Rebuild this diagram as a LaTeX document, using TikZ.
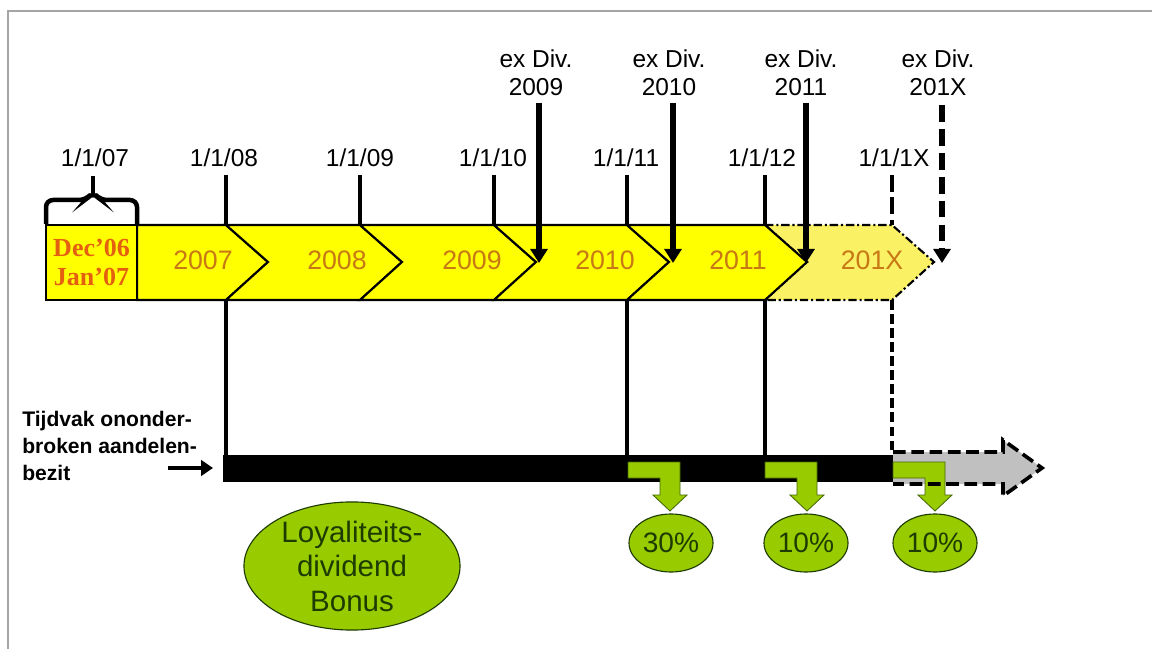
\documentclass[tikz,border=0pt]{standalone}
\usepackage{fontspec}
\setmainfont{Liberation Sans}
\newfontfamily\serifbold{Liberation Serif}
\usetikzlibrary{arrows.meta,shapes.geometric}
\definecolor{band}{RGB}{255,255,0}
\definecolor{bandlight}{RGB}{250,242,100}
\definecolor{yeartxt}{RGB}{200,120,20}
\definecolor{dectxt}{RGB}{228,96,16}
\definecolor{lgreen}{RGB}{153,204,0}
\definecolor{dgreen}{RGB}{30,60,0}
\definecolor{framegray}{RGB}{165,165,165}
\definecolor{arrowgray}{RGB}{192,192,192}
\begin{document}
\begin{tikzpicture}[x=0.025cm,y=-0.025cm,
  datelbl/.style={font=\fontsize{17.4}{19.9}\selectfont, inner sep=0, align=center},
  yearlbl/.style={font=\fontsize{19}{22}\selectfont, text=yeartxt, inner sep=0},
  seg/.style={fill=band, draw=black, line width=1.5pt, line join=miter},
  seglight/.style={fill=bandlight, draw=black, line width=1.5pt, dash pattern=on 6pt off 2pt on 1.5pt off 2pt},
  tick/.style={line width=2.4pt},
  dtick/.style={line width=2.4pt, dash pattern=on 7pt off 3pt},
  exdiv/.style={line width=4.5pt, -{Triangle[width=12pt,length=10pt]}},
  greenarrow/.style={fill=lgreen, draw=dgreen!70!lgreen, line width=0.6pt, line join=miter},
  pct/.style={ellipse, fill=lgreen, draw=dgreen, line width=0.8pt, minimum width=2.1cm, minimum height=1.45cm, inner sep=0, text=dgreen, font=\fontsize{20}{22}\selectfont}
]
\useasboundingbox (0,0) rectangle (1152,649);
\fill[white] (0,0) rectangle (1152,649);
\draw[framegray, line width=1.4pt] (8,649) -- (8,11) -- (1152,11);

% band segments
\path[seglight] (765,225) -- (892,225) -- (934,262) -- (892,300) -- (765,300) -- (807,262) -- cycle;
\path[seg] (137,225) -- (226,225) -- (268,262) -- (226,300) -- (137,300) -- cycle;
\foreach \a/\b in {226/360, 360/494, 494/627, 627/765}
  \path[seg] (\a,225) -- (\b,225) -- ({\b+42},262) -- (\b,300) -- (\a,300) -- ({\a+42},262) -- cycle;

\node (decbox) [draw=black, line width=1.5pt, fill=band, minimum width=2.275cm, minimum height=1.875cm, inner sep=0,
  font=\serifbold\bfseries\fontsize{18.5}{21}\selectfont, text=dectxt, align=center] at (91.5,262.5) {Dec’06\\Jan’07};

% year labels
\node[yearlbl] (y2007) at (203,260) {2007};
\node[yearlbl] (y2008) at (337,260) {2008};
\node[yearlbl] (y2009) at (472,260) {2009};
\node[yearlbl] (y2010) at (605,260) {2010};
\node[yearlbl] (y2011) at (738,260) {2011};
\node[yearlbl] (y201X) at (872,260) {201X};

% date labels
\node[datelbl] (d07) at (95,158) {1/1/07};
\node[datelbl] (d08) at (224,158) {1/1/08};
\node[datelbl] (d09) at (360,158) {1/1/09};
\node[datelbl] (d10) at (493,158) {1/1/10};
\node[datelbl] (d11) at (626,158) {1/1/11};
\node[datelbl] (d12) at (762,158) {1/1/12};
\node[datelbl] (d1X) at (894,158) {1/1/1X};

% brace
\draw[line width=3.2pt, rounded corners=5pt] (46,224) -- (46,200) -- (86,200) -- (93,192) -- (100,200) -- (137,200) -- (137,224);
\draw[line width=3.2pt] (93,194) -- (93,176);

% ticks above band
\foreach \x/\n in {226/08, 360/09, 494/10, 627/11, 765/12} {
  \coordinate (ta\n) at (\x,175);
  \coordinate (tb\n) at (\x,225);
  \draw[tick] (ta\n) -- (tb\n);
}
\coordinate (ta1X) at (892,175);
\coordinate (tb1X) at (892,225);
\draw[line width=3.4pt, dash pattern=on 12pt off 4pt] (ta1X) -- (tb1X);

% ex Div labels and arrows
\node[datelbl] (ex09) at (536,73) {ex Div.\\2009};
\node[datelbl] (ex10) at (669,73) {ex Div.\\2010};
\node[datelbl] (ex11) at (801,73) {ex Div.\\2011};
\node[datelbl] (ex1X) at (938,73) {ex Div.\\201X};
\coordinate (ea09) at (539,103); \coordinate (eb09) at (539,263);
\coordinate (ea10) at (673,103); \coordinate (eb10) at (673,263);
\coordinate (ea11) at (806,103); \coordinate (eb11) at (806,263);
\coordinate (ea1X) at (942,105); \coordinate (eb1X) at (942,263);
\draw[exdiv] (ea09) -- (eb09);
\draw[exdiv] (ea10) -- (eb10);
\draw[exdiv] (ea11) -- (eb11);
\draw[exdiv, dash pattern=on 12pt off 5pt] (ea1X) -- (eb1X);

% bar
\coordinate (bl) at (223,455);
\coordinate (br) at (893,482);
\fill[black] (bl) rectangle (br);
\coordinate (c08) at (226,300); \coordinate (e08) at (226,455);
\coordinate (c11) at (627,300); \coordinate (e11) at (627,455);
\coordinate (c12) at (765,300); \coordinate (e12) at (765,455);
\coordinate (c1X) at (892,300); \coordinate (e1X) at (892,455);
\draw[tick] (c08) -- (e08);
\draw[tick] (c11) -- (e11);
\draw[tick] (c12) -- (e12);
\draw[dtick] (c1X) -- (e1X);

% grey dashed arrow (fill)
\fill[arrowgray] (893,452) -- (1003,452) -- (1003,440) -- (1042,468) -- (1003,496) -- (1003,484) -- (893,484) -- cycle;

% green bent arrows
\foreach \x in {628, 765, 893}
  \path[greenarrow] (\x,462) -- ({\x+52},462) -- ({\x+52},495) -- ({\x+59},495) -- ({\x+42},511) -- ({\x+25},495) -- ({\x+32},495) -- ({\x+32},478) -- (\x,478) -- cycle;

% grey dashed arrow (outline)
\draw[line width=2.6pt, dash pattern=on 9pt off 4pt, line join=miter] (893,452) -- (1003,452) -- (1003,440) -- (1042,468) -- (1003,496) -- (1003,484) -- (893,484);

% left text and arrow
\node[anchor=west, align=left, inner sep=0, font=\bfseries\fontsize{15}{19.2}\selectfont] (tijd) at (22,446) {Tijdvak ononder-\\broken aandelen-\\bezit};
\coordinate (sa) at (168,468);
\coordinate (sb) at (213,468);
\draw[line width=3pt, -{Triangle[width=11pt,length=8.5pt]}] (sa) -- (sb);

% percentage ellipses
\node[pct] (p30) at (671,543) {30\%};
\node[pct] (p10a) at (806,543) {10\%};
\node[pct] (p10b) at (935,543) {10\%};

% loyalty ellipse
\node[ellipse, fill=lgreen, draw=dgreen, line width=0.8pt, minimum width=5.4cm, minimum height=2.9cm, inner sep=0,
  text=dgreen, align=center, font=\fontsize{21}{24.5}\selectfont] (loyal) at (352,566) {Loyaliteits-\\dividend\\Bonus};
\end{tikzpicture}
\end{document}
